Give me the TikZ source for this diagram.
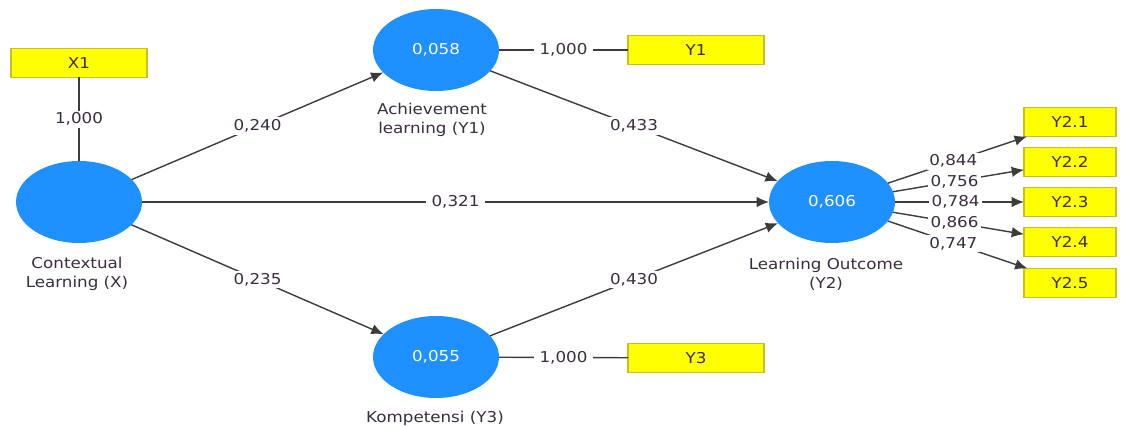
\documentclass[tikz,border=0pt]{standalone}
\usepackage{fontspec}
\setmainfont{DejaVu Sans}[FakeStretch=1.12]
\usetikzlibrary{shapes.geometric,arrows.meta}
\definecolor{lvblue}{RGB}{30,144,255}
\definecolor{indyel}{RGB}{255,255,0}
\definecolor{indedge}{RGB}{200,190,40}
\definecolor{edgegray}{RGB}{60,60,60}
\definecolor{txtdark}{RGB}{58,44,62}
\begin{document}
\begin{tikzpicture}[x=0.02cm,y=-0.02cm,
  every node/.style={font=\fontsize{8.5}{10.8}\selectfont},
  latent/.style={ellipse, fill=lvblue, draw=none, minimum width=2.52cm, minimum height=1.64cm, inner sep=0pt, outer sep=0pt, text=white},
  indbox/.style={rectangle, fill=indyel, draw=indedge, line width=0.6pt, minimum width=2.72cm, minimum height=0.58cm, inner sep=0pt, outer sep=0pt, text=txtdark},
  indsmall/.style={indbox, minimum width=1.84cm},
  lvname/.style={align=center, text=txtdark, inner sep=0pt},
  link/.style={draw=edgegray, line width=0.8pt},
  path/.style={link, -{Latex[length=7pt,width=6pt]}},
  coef/.style={fill=white, inner xsep=3pt, inner ysep=1.2pt, text=txtdark}]
\useasboundingbox (0,0) rectangle (1123,426);
% latent variables
\node[latent] (X)  at (79,202) {};
\node[latent] (LY1) at (436,50) {0,058};
\node[latent] (LY2) at (832,202) {0,606};
\node[latent] (LY3) at (436,357) {0,055};
% names
\node[lvname] (nX)  at (77,274) {Contextual\\Learning (X)};
\node[lvname] (nY1) at (432,120) {Achievement\\learning (Y1)};
\node[lvname] (nY2) at (826,274) {Learning Outcome\\(Y2)};
\node[lvname] (nY3) at (435,418) {Kompetensi (Y3)};
% indicators
\node[indbox] (X1) at (79,63) {X1};
\node[indbox] (I1) at (696,50) {Y1};
\node[indbox] (I3) at (696,358) {Y3};
\node[indsmall] (I21) at (1070,122) {Y2.1};
\node[indsmall] (I22) at (1070,162) {Y2.2};
\node[indsmall] (I23) at (1070,202) {Y2.3};
\node[indsmall] (I24) at (1070,242) {Y2.4};
\node[indsmall] (I25) at (1070,283) {Y2.5};
% outer loadings (no arrowheads)
\draw[link] (X) -- node[coef] {1,000} (X1);
\draw[link] (LY1) -- node[coef] {1,000} (I1);
\draw[link] (LY3) -- node[coef] {1,000} (I3);
% structural paths
\draw[path] (X) -- node[coef] {0,240} (LY1);
\draw[path] (X) -- node[coef] {0,321} (LY2);
\draw[path] (X) -- node[coef] {0,235} (LY3);
\draw[path] (LY1) -- node[coef] {0,433} (LY2);
\draw[path] (LY3) -- node[coef] {0,430} (LY2);
% Y2 loadings
\draw[path] (LY2) -- node[coef, inner xsep=1.5pt, pos=.47] {0,844} (I21);
\draw[path] (LY2) -- node[coef, inner xsep=1.5pt, pos=.47] {0,756} (I22);
\draw[path] (LY2) -- node[coef, inner xsep=1.5pt, pos=.47] {0,784} (I23);
\draw[path] (LY2) -- node[coef, inner xsep=1.5pt, pos=.47] {0,866} (I24);
\draw[path] (LY2) -- node[coef, inner xsep=1.5pt, pos=.47] {0,747} (I25);
\end{tikzpicture}
\end{document}
